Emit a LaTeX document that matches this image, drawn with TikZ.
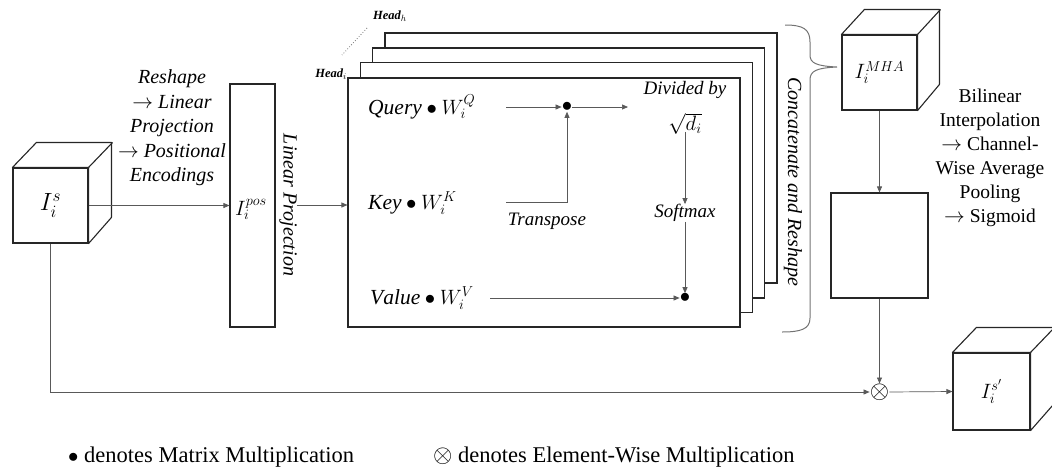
\documentclass[tikz,border=0pt]{standalone}
\usepackage{fontspec}
\setmainfont{Liberation Serif}
\usetikzlibrary{arrows.meta,calc}
\begin{document}
\begin{tikzpicture}[x=1pt,y=-1pt,
  box/.style={draw=black!85,line width=1.1pt,fill=white,inner sep=0pt},
  face/.style={draw=black!85,line width=1.1pt,fill=white,line join=round},
  conn/.style={draw=black!65,line width=0.7pt,-{Triangle[length=6pt,width=5pt]}},
  itx/.style={inner sep=0pt,align=center,font=\fontsize{20}{24.5}\selectfont\itshape},
  rmx/.style={inner sep=0pt,align=center,font=\fontsize{19.5}{24}\selectfont},
  cmi/.style={inner sep=0pt,align=center,font=\fontsize{19}{24}\selectfont\itshape},
  mth/.style={inner sep=0pt,font=\fontsize{21.5}{26}\selectfont},
  headlbl/.style={inner sep=0pt,font=\fontsize{12.5}{14}\selectfont\bfseries\itshape},
  legend/.style={inner sep=0pt,anchor=west,font=\fontsize{22.5}{26}\selectfont},
  dotn/.style={inner sep=0pt,font=\fontsize{20}{24}\selectfont}]
\useasboundingbox (0,0) rectangle (1052,472);

% ---- input cube
\node[box,minimum width=75pt,minimum height=75pt,font=\fontsize{24}{28}\selectfont] (c1) at (50.5,205.5) {$I_i^s$};
\draw[face] (c1.north west) -- ++(24,-25) -- ++(75,0) -- ++(0,75) -- (c1.south east) -- (c1.north east) -- cycle;
\draw[face] (c1.north east) -- ++(24,-25);

% ---- reshape text
\node[itx] (reshape) at (172,128) {Reshape\\$\rightarrow$ Linear\\Projection\\$\rightarrow$ Positional\\Encodings};

% ---- positional box
\node[box,minimum width=45pt,minimum height=243pt] (pos) at (252.5,205.5) {};
\node[mth,font=\fontsize{22}{26}\selectfont] (poslbl) at (251,209) {$I_i^{pos}$};
\node[itx,rotate=-90] (lp) at (288,205) {Linear Projection};

\draw[conn] (c1) -- (pos);

% ---- head boxes
\node[box,minimum width=392pt,minimum height=250pt] (h4) at (581,158) {};
\node[box,minimum width=392pt,minimum height=250pt] (h3) at (568.5,173) {};
\node[box,minimum width=392pt,minimum height=250pt] (h2) at (556.5,187.5) {};
\node[box,minimum width=392pt,minimum height=249pt] (h1) at (544,202.5) {};

\node[headlbl] (headh) at (390,16) {Head$_{h}$};
\node[headlbl,anchor=east] (headi) at (347,74) {Head$_{i}$};
\coordinate (dl1) at (367,28);
\coordinate (dl2) at (342,55);
\draw[black!55,line width=0.8pt,dotted] (dl1) -- (dl2);

\draw[conn] (lp.north) -- (h1.west |- lp.north);

% ---- inside the head
\node[mth,anchor=west] (query) at (368,107) {$\mathit{Query}\bullet W_i^Q$};
\node[mth,anchor=west] (key) at (368,203) {$\mathit{Key}\bullet W_i^K$};
\node[mth,anchor=west] (value) at (370,298) {$\mathit{Value}\bullet W_i^V$};

\node[dotn] (mul1) at (567,107) {$\bullet$};
\node[dotn] (mul2) at (685,298) {$\bullet$};

\node[cmi] (div) at (685,90) {Divided by};
\node[cmi,font=\fontsize{21}{24}\selectfont] (sqrtd) at (685,124) {$\sqrt{d_i}$};
\node[cmi] (soft) at (685,213) {Softmax};
\node[cmi] (trans) at (547,221) {Transpose};

\coordinate (q0) at (506,107);
\coordinate (q1) at (628,107);
\coordinate (k0) at (506,202);
\coordinate (v0) at (490,298);
\draw[conn] (q0) -- (mul1.west);
\draw[conn] (mul1.east) -- (q1);
\draw[conn] (k0) -| (mul1.south);
\draw[conn] ([yshift=3pt]sqrtd.south) -- (soft.north);
\draw[conn] (soft.south) -- (mul2.north);
\draw[conn] (v0) -- (mul2.west);

% ---- concatenate
\node[itx,rotate=-90] (concat) at (793,182) {Concatenate and Reshape};
\draw[black!55,line width=1pt] (785,25) .. controls (803,25) and (810,29) .. (810,42) -- (810,55)
   .. controls (810,63) and (816,66) .. (837,67)
   .. controls (816,68) and (810,71) .. (810,80) -- (810,318)
   .. controls (810,329) and (801,332) .. (782,332);

% ---- MHA cube
\node[box,minimum width=75pt,minimum height=75pt,font=\fontsize{22}{26}\selectfont] (mha) at (879.5,72.5) {$I_i^{MHA}$};
\draw[face] (mha.north west) -- ++(23,-25) -- ++(75,0) -- ++(0,75) -- (mha.south east) -- (mha.north east) -- cycle;
\draw[face] (mha.north east) -- ++(23,-25);

\node[box,minimum width=97pt,minimum height=105pt] (sq) at (879.5,245.5) {};
\draw[conn] (mha.south) -- (sq.north);

\node[rmx] (bil) at (990,158) {Bilinear\\Interpolation\\$\rightarrow$ Channel-\\Wise Average\\Pooling\\$\rightarrow$ Sigmoid};

% ---- element-wise
\node[dotn,font=\fontsize{28}{30}\selectfont] (ot) at (879.5,392) {$\otimes$};
\draw[conn] (sq.south) -- (ot.north);
\draw[conn] (c1.south) |- (ot.west);

% ---- output cube
\node[box,minimum width=77pt,minimum height=77pt,font=\fontsize{22}{26}\selectfont] (out) at (991.5,391.5) {$I_i^{s'}$};
\draw[face] (out.north west) -- ++(24,-25) -- ++(77,0) -- ++(0,77) -- (out.south east) -- (out.north east) -- cycle;
\draw[face] (out.north east) -- ++(24,-25);
\draw[conn] (ot.east) -- (out.west);

% ---- legend
\node[legend] (leg1) at (68,457) {$\bullet$ denotes Matrix Multiplication};
\node[legend] (leg2) at (433,457) {{\fontsize{27}{28}\selectfont$\otimes$} denotes Element-Wise Multiplication};
\end{tikzpicture}
\end{document}
